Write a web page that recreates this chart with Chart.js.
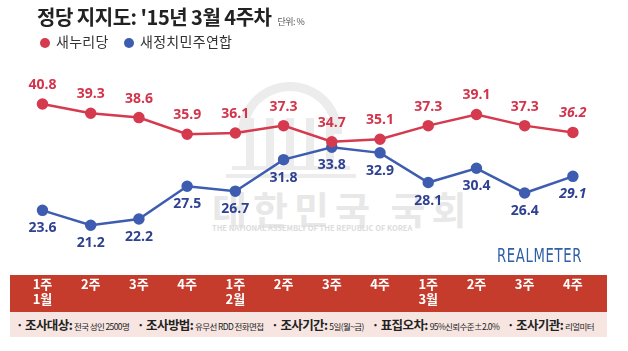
<!DOCTYPE html>
<html>
<head>
<meta charset="utf-8">
<script src="https://cdn.jsdelivr.net/npm/chart.js@4"></script>
<style>
  html, body { margin: 0; padding: 0; background: #fff; }
  #wrap { position: relative; width: 628px; height: 351px; overflow: hidden; font-family: "Noto Sans CJK KR", "Noto Sans", sans-serif; }
  #chart { position: absolute; left: 0; top: 0; }
  .title { position: absolute; left: 37px; top: 2px; font-size: 20px; font-weight: 700; color: #222; letter-spacing: -0.5px; }
  .title small { font-size: 9px; font-weight: 400; color: #555; margin-left: 6px; }
  .legend { position: absolute; top: 31px; font-size: 14px; color: #333; letter-spacing: 0.3px; }
  .legend i { display: inline-block; width: 10px; height: 10px; border-radius: 50%; margin-right: 6px; vertical-align: -1px; }
  .wm { position: absolute; color: #e8e8e8; white-space: nowrap; }
  .pillar { position: absolute; background: #ececec; width: 8px; }
  .brand { position: absolute; left: 497px; top: 243px; font-family: "DejaVu Sans", sans-serif; font-size: 20px; color: #2f5fa8; letter-spacing: 1px; transform: scaleX(0.66); transform-origin: left top; }
  .foot { position: absolute; left: 10px; top: 312px; width: 597px; height: 25px; background: #f6e5e1; font-size: 11px; line-height: 25px; color: #222; white-space: nowrap; letter-spacing: -0.6px; }
  .foot b { font-size: 12.5px; margin-left: 6px; }
  .foot span { font-size: 8.5px; }
</style>
</head>
<body>
<div id="wrap">
  <div class="wm" style="left:238px;top:82px;width:104px;height:52px;border:9px solid #ececec;border-bottom:none;border-radius:60px 60px 0 0;box-sizing:border-box;"></div>
  <div class="pillar" style="left:246px;top:118px;height:48px"></div>
  <div class="pillar" style="left:266px;top:118px;height:48px"></div>
  <div class="pillar" style="left:286px;top:118px;height:48px"></div>
  <div class="pillar" style="left:306px;top:118px;height:48px"></div>
  <div class="pillar" style="left:326px;top:118px;height:48px"></div>
  <div class="wm" style="left:232px;top:166px;width:118px;height:4px;background:#ececec"></div>
  <div class="wm" style="left:226px;top:174px;width:130px;height:4px;background:#ececec"></div>
  <div class="wm" style="left:212px;top:180px;font-size:38px;font-weight:700;letter-spacing:6px">대한민국 국회</div>
  <div class="wm" style="left:212px;top:222px;font-size:7.5px;font-weight:700;color:#dcdcdc">THE NATIONAL ASSEMBLY OF THE REPUBLIC OF KOREA</div>
  <canvas id="chart" width="628" height="351"></canvas>
  <div class="title">정당 지지도: '15년 3월 4주차<small>단위: %</small></div>
  <div class="legend" style="left:40px"><i style="background:#d63a4f"></i>새누리당</div>
  <div class="legend" style="left:124px"><i style="background:#3e5db0"></i>새정치민주연합</div>
  <div class="brand">REALMETER</div>
  <div class="foot"><b>· 조사대상:</b> <span>전국 성인 2500명</span> <b>· 조사방법:</b> <span>유무선 RDD 전화면접</span> <b>· 조사기간:</b> <span>5일(월~금)</span> <b>· 표집오차:</b> <span>95%신뢰수준±2.0%</span> <b>· 조사기관:</b> <span>리얼미터</span></div>
</div>
<script>
const weeks = [['1주', '1월'], '2주', '3주', '4주', ['1주', '2월'], '2주', '3주', '4주', ['1주', '3월'], '2주', '3주', '4주'];
const saenuri = [40.8, 39.3, 38.6, 35.9, 36.1, 37.3, 34.7, 35.1, 37.3, 39.1, 37.3, 36.2];
const npad = [23.6, 21.2, 22.2, 27.5, 26.7, 31.8, 33.8, 32.9, 28.1, 30.4, 26.4, 29.1];
const seriesNames = ['새누리당', '새정치민주연합'];

const RED = '#d63a4f';
const BLUE = '#3e5db0';

// red strip behind the week labels
const band = {
  id: 'band',
  beforeDraw(chart) {
    const { ctx } = chart;
    ctx.save();
    ctx.fillStyle = '#c63c2c';
    ctx.fillRect(10, 275, 597, 37);
    ctx.restore();
  },
};

// value labels: red above, blue below, last point italic
const valueLabels = {
  id: 'valueLabels',
  afterDatasetsDraw(chart) {
    const { ctx } = chart;
    chart.data.datasets.forEach((ds, i) => {
      const meta = chart.getDatasetMeta(i);
      meta.data.forEach((pt, j) => {
        const last = j === ds.data.length - 1;
        ctx.save();
        ctx.font = `${last ? 'italic ' : ''}bold 14px "Open Sans", sans-serif`;
        ctx.fillStyle = i === 0 ? '#d2344b' : '#2f4192';
        ctx.textAlign = 'center';
        ctx.textBaseline = 'middle';
        ctx.fillText(ds.data[j].toFixed(1), pt.x, i === 0 ? pt.y - 19 : pt.y + 18);
        ctx.restore();
      });
    });
  },
};

new Chart(document.getElementById('chart'), {
  type: 'line',
  data: {
    labels: weeks,
    datasets: [
      { label: seriesNames[0], data: saenuri, borderColor: RED, backgroundColor: RED, borderWidth: 2.5, pointRadius: 4.5, tension: 0 },
      { label: seriesNames[1], data: npad, borderColor: BLUE, backgroundColor: BLUE, borderWidth: 2.5, pointRadius: 4.5, tension: 0 },
    ],
  },
  options: {
    responsive: false,
    animation: false,
    layout: { padding: { left: 16, right: 31, top: 78, bottom: 0 } },
    plugins: { legend: { display: false }, tooltip: { enabled: false } },
    scales: {
      x: {
        offset: true,
        grid: { display: false, drawTicks: false },
        border: { display: false },
        ticks: { color: '#fff', font: { family: '"Noto Sans CJK KR"', size: 13, weight: 'bold', lineHeight: 1.15 }, padding: 32, maxRotation: 0, autoSkip: false },
        afterFit(scale) { scale.height = 106; },
      },
      y: { display: false, min: 18, max: 45 },
    },
  },
  plugins: [band, valueLabels],
});
</script>
</body>
</html>
